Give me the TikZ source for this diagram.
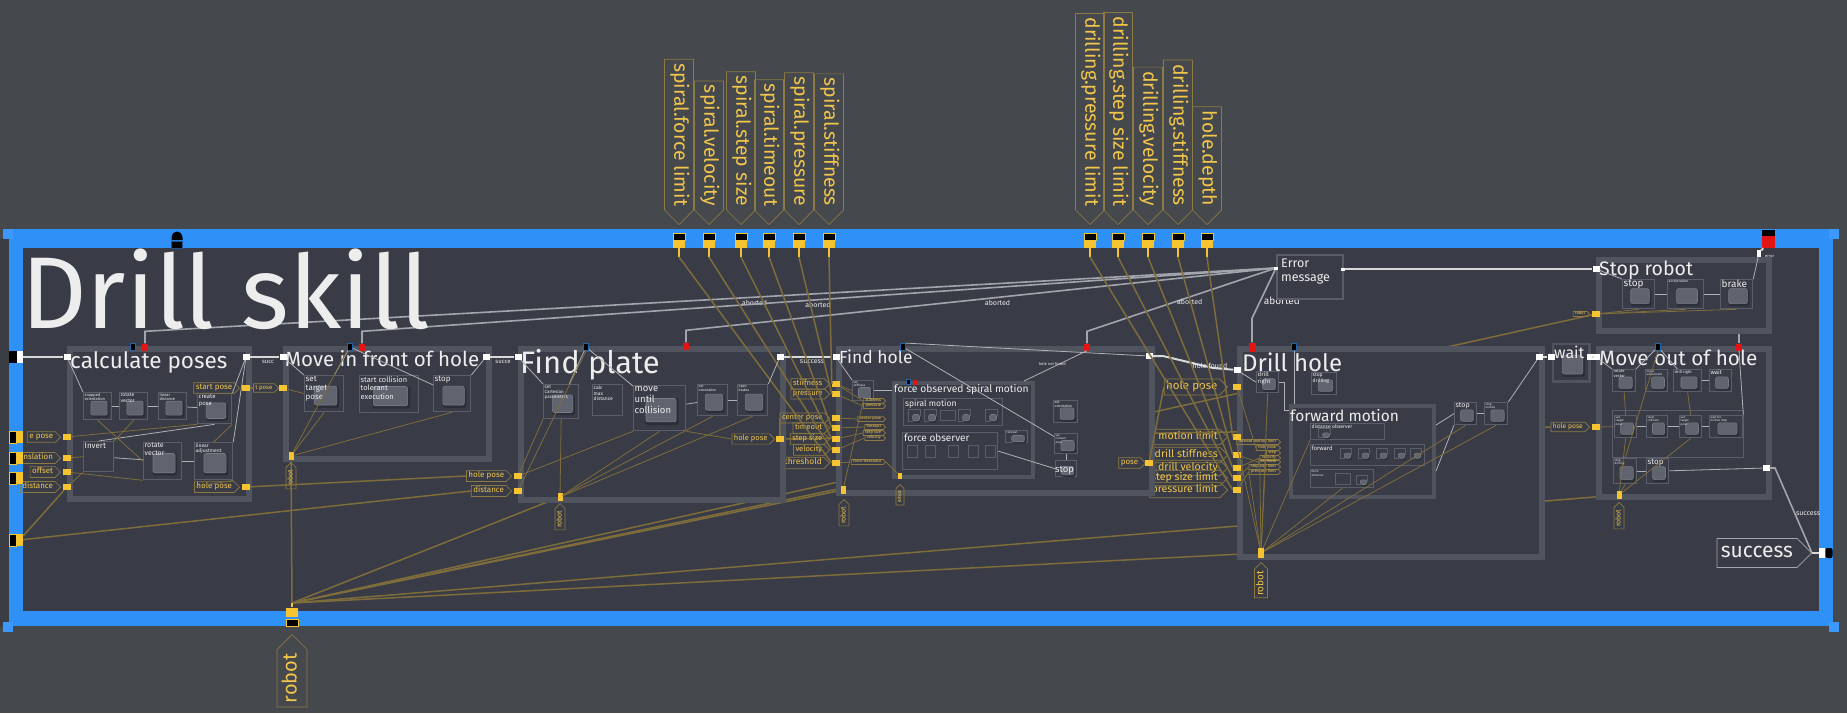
\documentclass[tikz,border=0pt]{standalone}
\usepackage{fontspec}
\setmainfont{Fira Sans}
\usetikzlibrary{positioning, calc, shapes.symbols}
\definecolor{bgout}{HTML}{45484D}
\definecolor{darkstrip}{HTML}{3A3D44}
\definecolor{canvas}{HTML}{393C47}
\definecolor{frameblue}{HTML}{2F90F8}
\definecolor{cornerblue}{HTML}{3C98FA}
\definecolor{boxgray}{HTML}{50545F}
\definecolor{subgray}{HTML}{5A5E6A}
\definecolor{icongray}{HTML}{60646F}
\definecolor{iconlight}{HTML}{777B86}
\definecolor{iconedge}{HTML}{2C2F37}
\definecolor{wirewhite}{HTML}{D8D8D8}
\definecolor{abortgray}{HTML}{A2A5AC}
\definecolor{portyellow}{HTML}{F6C431}
\definecolor{txtyellow}{HTML}{F2C64A}
\definecolor{tagborder}{HTML}{8C7A42}
\definecolor{wireyellow}{HTML}{7E6C3B}
\definecolor{txtwhite}{HTML}{EDEDED}
\definecolor{portred}{HTML}{E31414}

\pgfdeclarelayer{bg}
\pgfdeclarelayer{back}
\pgfdeclarelayer{front}
\pgfsetlayers{bg,back,main,front}

\newcommand{\fs}[1]{\fontsize{#1}{#1}\selectfont}

\tikzset{
  skillbox/.style={draw=boxgray, fill=canvas, inner sep=0pt, anchor=north west},
  subbox/.style={draw=subgray, line width=1.3pt, fill=canvas, inner sep=0pt, anchor=north west},
  iconback/.style={fill=iconedge, rounded corners=2pt, inner sep=0pt},
  iconface/.style={fill=icongray, draw=iconlight, line width=0.6pt, rounded corners=2pt, inner sep=0pt},
  blktext/.style={text=txtwhite, align=left, inner sep=0pt, anchor=north west},
  skilltitle/.style={text=txtwhite, inner sep=0pt, anchor=base west},
  ytag/.style={signal, signal to=east, draw=tagborder, line width=0.7pt, text=txtyellow,
    inner xsep=2pt, inner ysep=1.2pt, execute at begin node=\strut, anchor=east},
  ptag/.style={ytag, rotate=-90, minimum height=29pt, inner xsep=4pt, font=\fs{19.4}},
  rtag/.style={ytag, rotate=90},
  yport/.style={fill=portyellow, minimum width=8pt, minimum height=6pt, inner sep=0pt},
  wport/.style={fill=white, minimum width=7pt, minimum height=6pt, inner sep=0pt},
  bport/.style={fill=black, draw=portyellow, line width=0.8pt, minimum width=12pt, minimum height=7pt, inner sep=0pt},
  redmark/.style={fill=portred, minimum width=6pt, minimum height=7pt, inner sep=0pt},
  bluemark/.style={fill=black, draw=frameblue!70!black, line width=0.8pt, minimum width=5pt, minimum height=7pt, inner sep=0pt},
  wlabel/.style={text=txtwhite, inner sep=1pt},
  wwire/.style={draw=wirewhite, line width=2pt},
  wthin/.style={draw=wirewhite!75!canvas, line width=0.8pt},
  awire/.style={draw=abortgray, line width=1.6pt},
  ywire/.style={draw=wireyellow, line width=1.5pt},
  ythin/.style={draw=wireyellow, line width=0.8pt},
}

% frame of a nested skill: name, x1, y1, x2, y2 (outer edge), frame width
\newcommand{\skillframe}[6]{%
  \node[skillbox, line width=#6pt, minimum width={(#4-#2-#6)*1pt}, minimum height={(#5-#3-#6)*1pt}] (#1) at ({#2+#6/2},{#3+#6/2}) {};}
% block with icon: name, x1, y1, x2, y2, text, font size
\newcommand{\blk}[7]{%
  \node[subbox, minimum width={(#4-#2)*1pt}, minimum height={(#5-#3)*1pt}] (#1) at (#2,#3) {};
  \node[iconback, minimum width={(#4-#2)*0.64pt}, minimum height={(#5-#3)*0.6pt}] (#1-s) at ([shift={(2.4,3.4)}]#1.center) {};
  \node[iconface, minimum width={(#4-#2)*0.58pt}, minimum height={(#5-#3)*0.52pt}] (#1-i) at ([shift={(1.4,2)}]#1.center) {};
  \pgfmathsetmacro\blkbs{1.15*#7}
  \node[blktext, font=\fontsize{#7}{\blkbs}\selectfont] (#1-t) at ([shift={(1.5,1)}]#1.north west) {#6};}
% block without icon
\newcommand{\pbox}[7]{%
  \node[subbox, minimum width={(#4-#2)*1pt}, minimum height={(#5-#3)*1pt}] (#1) at (#2,#3) {};
  \pgfmathsetmacro\blkbs{1.15*#7}
  \node[blktext, font=\fontsize{#7}{\blkbs}\selectfont] (#1-t) at ([shift={(1.5,1.5)}]#1.north west) {#6};}

\begin{document}
\begin{tikzpicture}[x=1pt, y=-1pt, font=\fs{8}]
\useasboundingbox (0,0) rectangle (1847,713);
\begin{pgfonlayer}{bg}
  \fill[bgout] (0,0) rectangle (1847,713);
  \fill[darkstrip] (0,238) rectangle (9,626);
  \fill[frameblue] (9,229) rectangle (1833,626);
  \fill[canvas] (23,248) rectangle (1819,611);
  \foreach \cx/\cy in {3/229, 1829/229, 3/622, 1829/622}
    \fill[cornerblue] (\cx,\cy) rectangle ++(10,10);
\end{pgfonlayer}

\node[skilltitle, font=\fs{102}] (skillname) at (21,328) {Drill skill};

% ports of the skill itself
\node[fill=black, draw=frameblue!60!black, line width=.8pt, minimum width=11pt, minimum height=7pt, inner sep=0pt] (skillstart) at (177,245) {};
\fill[black] (171.5,240) -- (171.5,237) arc[start angle=180, end angle=360, radius=5.5] -- (182.5,240) -- cycle;
\fill[black] (1762,230) rectangle (1775,236);
\node[redmark, minimum width=13pt, minimum height=12pt] (skillerr) at (1768.5,242) {};
\node[fill=black, minimum width=8pt, minimum height=12pt, inner sep=0pt] (skillinb) at (13,357) {};
\node[wport, minimum width=6pt, minimum height=12pt] (skillin) at (20,357) {};
\node[wport, minimum width=6pt, minimum height=10pt] (skillout) at (1822,553) {};
\node[fill=black, minimum width=7pt, minimum height=10pt, inner sep=0pt, rounded corners=2pt] (skilloutb) at (1829,553) {};

% parameters on top
\foreach \px/\nm/\txt in {679/pSF/spiral.force limit, 709/pSV/spiral.velocity, 741/pSS/spiral.step size,
    769/pST/spiral.timeout, 799/pSP/spiral.pressure, 829/pSK/spiral.stiffness,
    1090/pDP/drilling.pressure limit, 1118/pDS/drilling.step size limit, 1148/pDV/drilling.velocity,
    1178/pDK/drilling.stiffness, 1207/pHD/hole.depth}{
  \node[ptag] (\nm-tag) at (\px,225) {\txt};
  \node[bport] (\nm-b) at (\px,236.5) {};
  \node[yport, minimum width=12pt, minimum height=8pt] (\nm) at (\px,244) {};
  \coordinate (\nm-s) at (\px,257);
  \draw[portyellow, line width=2pt] (\nm.south) -- (\nm-s);
}

% robot at the bottom
\node[yport, minimum width=12pt, minimum height=9pt] (robotport) at (292,612) {};
\node[bport] (robotb) at (292,623) {};
\coordinate (robotstem) at (292,603);
\draw[portyellow, line width=2pt] (robotport.north) -- (robotstem);
\node[rtag, minimum height=30pt, inner xsep=4pt, font=\fs{20}] (robottag) at (292,634) {robot};

% inputs on the left
\node[ytag] (cpT1) at (61,437) {e pose};
\node[ytag] (cpT2) at (61,458) {anslation};
\node[ytag] (cpT3) at (61,472) {offset};
\node[ytag] (cpT4) at (61,487) {distance};
\foreach \yy/\nm in {437/lpA, 458/lpB, 478/lpC, 540/lpD}{
  \node[fill=black, draw=portyellow, line width=.8pt, minimum width=7pt, minimum height=12pt, inner sep=0pt] (\nm-b) at (12.5,\yy) {};
  \node[yport, minimum width=7pt, minimum height=12pt] (\nm) at (19.5,\yy) {};
}

% calculate poses
\skillframe{calc}{64}{343}{249}{499}{6}
\node[skilltitle, font=\fs{22.5}] (calcname) at (70,368) {calculate poses};
\blk{cpA}{83}{392}{111}{419}{snapped\\orientation}{4}
\blk{cpB}{119}{392}{147}{419}{rotate\\vector}{5}
\blk{cpC}{158}{392}{186}{419}{linear\\distance}{4}
\blk{cpD}{197}{393}{231}{423}{create\\pose}{6}
\pbox{cpE}{83}{441}{113}{471}{Invert}{8}
\blk{cpF}{143}{442}{181}{479}{rotate\\vector}{7}
\blk{cpG}{194}{442}{232}{479}{linear\\adjustment}{5}
\node[ytag] (cpStart) at (240,388) {start pose};
\node[ytag] (cpHole) at (240,487) {hole pose};
\node[wport] (calcIn) at (67,357) {};
\node[wport] (calcOut) at (246,357) {};
\node[yport] (calcStart) at (246,388) {};
\node[yport] (calcHole) at (246,487) {};
\foreach \yy/\nm in {437/calcI1, 458/calcI2, 472/calcI3, 487/calcI4}
  \node[yport] (\nm) at (67,\yy) {};
\node[bluemark] (calcB) at (133,347) {};
\node[redmark] (calcR) at (145,347) {};

% move in front of hole
\node[ytag, font=\fs{6}] (mfT) at (279,388) {t pose};
\skillframe{mf}{280}{343}{489}{459}{6}
\node[skilltitle, font=\fs{20.5}] (mfname) at (285,366) {Move in front of hole};
\blk{mfA}{304}{375}{343}{411}{set\\target\\pose}{8}
\blk{mfB}{359}{375}{418}{412}{start collision\\tolerant\\execution}{7.5}
\blk{mfC}{433}{375}{470}{411}{stop}{8}
\node[wport] (mfIn) at (283,357) {};
\node[wport] (mfOut) at (486,357) {};
\node[yport] (mfPose) at (283,388) {};
\node[yport, minimum width=5pt, minimum height=8pt] (mfRobot) at (291,456) {};
\node[rtag, font=\fs{7}, minimum height=10pt] (mfRT) at (291,462) {robot};
\node[bluemark] (mfB) at (350,347) {};
\node[redmark] (mfR) at (362,347) {};

% find plate
\node[ytag] (fpT1) at (512,476) {hole pose};
\node[ytag] (fpT2) at (512,491) {distance};
\skillframe{fp}{515}{343}{783}{500}{6}
\node[skilltitle, font=\fs{31}] (fpname) at (520,373) {Find plate};
\blk{fpA}{543}{384}{578}{418}{set\\Cartesian\\parameters}{4.5}
\pbox{fpB}{592}{384}{622}{415}{calc\\max\\distance}{5}
\blk{fpC}{633}{385}{685}{430}{move\\until\\collision}{9.5}
\blk{fpD}{697}{384}{727}{415}{set\\orientation}{3.5}
\blk{fpE}{737}{384}{767}{415}{open\\brakes}{3.5}
\node[ytag, font=\fs{7.5}] (fpT) at (775,439) {hole pose};
\node[wport] (fpIn) at (518,357) {};
\node[wport] (fpOut) at (780,357) {};
\node[yport] (fpHole) at (780,439) {};
\node[yport] (fpI1) at (518,476) {};
\node[yport] (fpI2) at (518,491) {};
\node[yport, minimum width=5pt, minimum height=8pt] (fpRobot) at (560,497) {};
\node[rtag, font=\fs{7}, minimum height=10pt] (fpRT) at (560,503) {robot};
\node[bluemark] (fpB) at (586,347) {};
\node[redmark] (fpR) at (686,346) {};

% inputs partly hidden by the next box
\begin{pgfonlayer}{back}
  \node[ytag, font=\fs{8.5}] (fhT7) at (830,463) {force threshold};
\end{pgfonlayer}
\foreach \yy/\txt/\nm in {437/forward motion limit/dhT1, 455/drill stiffness/dhT2, 468/drill velocity/dhT3,
    478/step size limit/dhT4, 490/pressure limit/dhT5}
  \node[ytag, font=\fs{10.6}, inner ysep=2pt] (\nm) at (1228,\yy) {\txt};

% find hole
\foreach \yy/\txt [count=\i] in {384/stiffness, 394/pressure, 418/center pose, 428/timeout, 439/step size, 450/velocity}
  \node[ytag, font=\fs{7.6}] (fhT\i) at (830,\yy) {\txt};
\skillframe{fh}{833}{343}{1152}{493}{6}
\node[skilltitle, font=\fs{17.5}] (fhname) at (839,363) {Find hole};
\blk{fhA}{852}{380}{873}{400}{set\\stiffness}{3}
\skillframe{sf}{890}{379}{1033}{477}{4}
\node[skilltitle, font=\fs{10.3}] (sfname) at (894,392) {force observed spiral motion};
\pbox{sm}{903}{398}{1002}{425}{}{1}
\node[skilltitle, font=\fs{8.5}] (smname) at (905,406) {spiral motion};
\foreach \bx [count=\i] in {908,924,958,985}{\blk{smb\i}{\bx}{409}{\bx+12}{421}{}{1}}
\pbox{smw}{940}{410}{955}{420}{}{1}
\pbox{fo}{902}{432}{997}{469}{}{1}
\node[skilltitle, font=\fs{10}] (foname) at (904,441) {force observer};
\foreach \bx [count=\i] in {907,925,948,968,985}{\pbox{fob\i}{\bx}{445}{\bx+10}{457}{}{1}}
\blk{fhTo}{1005}{430}{1027}{442}{timeout}{3}
\blk{fhB}{1053}{400}{1077}{422}{set\\orientation}{3.5}
\blk{fhC}{1054}{433}{1077}{453}{set\\contact\\pose}{3}
\blk{fhD}{1055}{460}{1076}{476}{}{1}
\node[skilltitle, font=\fs{9.5}] (fhDt) at (1055,472) {stop};
\node[ytag] (fhT8) at (1146,463) {pose};
\foreach \yy/\txt [count=\i] in {401/stiffness, 406/pressure, 419/center pose, 427/timeout, 433/step size, 438/velocity, 462/force threshold}
  \node[ytag, font=\fs{4}, inner ysep=.4pt] (fhs\i) at (886,\yy) {\txt};
\node[wport] (fhIn) at (836,357) {};
\node[wport] (fhOut) at (1149,356) {};
\node[yport] (fhPose) at (1149,463) {};
\foreach \yy [count=\i] in {384,394,418,428,439,450,463}
  \node[yport] (fhI\i) at (836,\yy) {};
\node[yport, minimum width=5pt, minimum height=8pt] (fhRobot) at (843,490) {};
\node[rtag, font=\fs{7}, minimum height=10pt] (fhRT) at (844,499) {robot};
\node[yport, minimum width=4pt, minimum height=6pt] (sfRobot) at (900,476) {};
\node[rtag, font=\fs{5}, minimum height=8pt] (sfRT) at (900,484) {robot};
\node[bluemark] (fhB) at (903,347) {};
\node[redmark] (fhR) at (1087,347) {};
\node[bluemark, minimum width=4pt, minimum height=5pt] (sfB) at (908,382) {};
\node[redmark, minimum width=4pt, minimum height=5pt] (sfR) at (915,382) {};

% error message
\node[subbox, line width=2pt, minimum width=66pt, minimum height=44pt] (errbox) at (1276,254) {};
\node[blktext, font=\fontsize{12.5}{14}\selectfont] (errtxt) at (1281,259) {Error\\message};
\node[wport, minimum width=4pt, minimum height=3pt] (errin) at (1276,268) {};
\node[wport, minimum width=4pt, minimum height=3pt] (errout) at (1343,269) {};

% drill hole
\node[ytag, font=\fs{11.5}, inner ysep=2pt] (dhT0) at (1228,387) {hole pose};
\skillframe{dh}{1234}{343}{1542}{557}{6}
\node[skilltitle, font=\fs{24}] (dhname) at (1242,371) {Drill hole};
\blk{dhA}{1256}{371}{1278}{392}{drill\\right}{6}
\blk{dhB}{1311}{372}{1336}{394}{stop\\drilling}{5}
\skillframe{fw}{1287}{402}{1434}{497}{4}
\node[skilltitle, font=\fs{15.5}] (fwname) at (1290,421) {forward motion};
\pbox{fwA}{1310}{423}{1384}{439}{distance observer}{5}
\blk{fwa1}{1318}{428}{1330}{437}{}{1}
\pbox{fwB}{1310}{444}{1424}{465}{forward}{6}
\foreach \bx [count=\i] in {1340,1358,1376,1394,1410}{\blk{fwb\i}{\bx}{448}{\bx+11}{458}{}{1}}
\pbox{fwC}{1310}{469}{1373}{487}{force\\observer}{3}
\pbox{fwc1}{1335}{473}{1350}{484}{}{1}
\blk{fwc2}{1356}{475}{1367}{484}{}{1}
\blk{dhC}{1454}{402}{1476}{424}{stop}{7}
\blk{dhD}{1484}{402}{1507}{424}{stop\\motion}{3}
\foreach \yy/\txt [count=\i] in {442/forward motion limit, 448/hole pose, 453/step, 458/velocity, 462/stiffness, 467/step size limit, 472/pressure limit}
  \node[ytag, font=\fs{4}, inner ysep=.3pt] (dhs\i) at (1281,\yy) {\txt};
\node[wport] (dhIn) at (1237,370) {};
\node[wport] (dhOut) at (1539,357) {};
\node[yport] (dhI0) at (1237,387) {};
\foreach \yy [count=\i] in {437,455,468,478,490}
  \node[yport] (dhI\i) at (1237,\yy) {};
\node[yport, minimum width=6pt, minimum height=10pt] (dhRobot) at (1261,553) {};
\node[rtag, font=\fs{10}, minimum height=13pt] (dhRT) at (1261,562) {robot};
\node[redmark, minimum width=7pt, minimum height=9pt] (dhR) at (1252,347) {};
\node[bluemark] (dhB) at (1294,347) {};

% stop robot
\node[ytag, font=\fs{4}, inner ysep=.4pt] (srT) at (1590,314) {robot};
\skillframe{sr}{1593}{254}{1769}{331}{6}
\node[skilltitle, font=\fs{19.5}] (srname) at (1599,275) {Stop robot};
\blk{srA}{1622}{279}{1654}{308}{stop}{10}
\blk{srB}{1667}{279}{1703}{308}{acceleration}{3.5}
\blk{srC}{1720}{279}{1752}{308}{brake}{10}
\node[wport] (srIn) at (1596,269) {};
\node[yport] (srRobot) at (1596,314) {};
\node[wport, minimum width=4pt, minimum height=7pt] (srErr) at (1759,253) {};
\node[wlabel, font=\fs{4}, anchor=west] (errlbl) at (1764,256) {error};

% wait
\blk{wait}{1553}{344}{1588}{380}{}{1}
\draw[boxgray, line width=2.5pt] (wait.north west) rectangle (wait.south east);
\node[skilltitle, font=\fs{16}] (waitname) at (1554,358) {wait};
\node[wport] (waitIn) at (1551,357) {};
\node[wport] (waitOut) at (1590,357) {};

% move out of hole
\node[ytag, font=\fs{6.7}] (moT) at (1590,427) {hole pose};
\skillframe{mo}{1593}{343}{1769}{497}{6}
\node[skilltitle, font=\fs{20.7}] (moname) at (1599,365) {Move out of hole};
\blk{moA}{1612}{369}{1635}{391}{rotate\\vector}{4}
\blk{moB}{1645}{369}{1667}{391}{linear\\adjustment}{3}
\blk{moC}{1673}{369}{1701}{391}{drill right}{4}
\blk{moD}{1709}{369}{1731}{391}{wait}{6}
\node[subbox, line width=.8pt, fill=none, minimum width=131pt, minimum height=47pt] (moRow) at (1612,410) {};
\blk{moE}{1614}{415}{1636}{437}{set\\target\\pose}{3}
\blk{moF}{1646}{415}{1667}{437}{start\\collision}{3}
\blk{moG}{1679}{415}{1701}{437}{set\\target\\pose}{3}
\blk{moH}{1709}{415}{1742}{437}{wait for\\motion stop}{3}
\blk{moI}{1613}{458}{1636}{483}{stop\\drilling}{3}
\blk{moJ}{1646}{458}{1668}{483}{stop}{8}
\node[wport] (moIn) at (1596,357) {};
\node[wport] (moOut) at (1766,468) {};
\node[yport] (moHole) at (1596,427) {};
\node[yport, minimum width=5pt, minimum height=8pt] (moRobot) at (1619,495) {};
\node[rtag, font=\fs{7}, minimum height=10pt] (moRT) at (1619,502) {robot};
\node[bluemark] (moB) at (1658,347) {};
\node[redmark] (moR) at (1739,347) {};

% success output
\node[ytag, draw=abortgray, text=txtwhite, font=\fs{21}, minimum height=29pt, inner xsep=4pt] (successtag) at (1812,553) {success};

% wires hidden behind the boxes
\begin{pgfonlayer}{back}
  \draw[awire] (calcR.north) -- ++(0,-12) -- (errin) node[pos=.54, below=1pt, wlabel, font=\fs{7}] (ab1) {aborted};
  \draw[awire] (mfR.north) -- ++(0,-12) -- (errin) node[pos=.5, below=1pt, wlabel, font=\fs{7}] (ab2) {aborted};
  \draw[awire] (fpR.north) -- ++(0,-12) -- (errin) node[pos=.53, below=1pt, wlabel, font=\fs{7}] (ab3) {aborted};
  \draw[awire] (fhR.north) -- ++(0,-12) -- (errin) node[pos=.55, below=1pt, wlabel, font=\fs{7}] (ab4) {aborted};
  \draw[awire] (dhR.north) -- ++(0,-24) -- (errin) node[pos=.35, right=2pt, wlabel, font=\fs{10}] (ab5) {aborted};
  \draw[awire] (moR.north) -- (moR.north |- sr.south);
  \foreach \tg in {mfRobot, fpRobot, fhRobot, sfRobot, dhRobot, moRobot, srRobot}
    \draw[ywire] (robotstem) -- (\tg);
  \draw[ywire] (fpHole) -- (moT.west);
\end{pgfonlayer}

\begin{pgfonlayer}{front}
  % flow between the steps
  \draw[wwire] (skillin) -- (calcIn);
  \draw[wwire] (calcOut) -- (mfIn);
  \draw[wwire] (mfOut) -- (fpIn);
  \draw[wwire] (fpOut) -- (fhIn);
  \draw[wwire] (fhOut) -- ++(14,0) -- ++(50,12) -- (dhIn);
  \draw[wwire] (dhOut) -- (waitIn);
  \draw[wwire] (waitOut) -- (moIn);
  \draw[wwire] (errout) -- (srIn);
  \draw[wwire] (srErr) -- (skillerr);
  \draw[awire] (moOut) -- ++(9,0) -- (successtag.east);
  \draw[wwire] (successtag.east) -- (skillout);
  \node[wlabel, font=\fs{6}] (lblA) at (268,362) {succ};
  \node[wlabel, font=\fs{6}] (lblB) at (503,362) {succe};
  \node[wlabel, font=\fs{7}] (lblC) at (812,362) {success};
  \node[wlabel, font=\fs{7}] (lblD) at (1210,366) {hole found};
  \node[wlabel, font=\fs{7}] (lblE) at (1808,514) {success};
  % parameters
  \draw[ywire] (pSK-s) -- (fhI1.west);
  \draw[ywire] (pSP-s) -- (fhI2.west);
  \draw[ywire] (pST-s) -- (fhI4.west);
  \draw[ywire] (pSS-s) -- (fhI5.west);
  \draw[ywire] (pSV-s) -- (fhI6.west);
  \draw[ywire] (pSF-s) -- (fhI7.west);
  \draw[ywire] (pHD-s) -- (dhI1.west);
  \draw[ywire] (pDK-s) -- (dhI2.west);
  \draw[ywire] (pDV-s) -- (dhI3.west);
  \draw[ywire] (pDS-s) -- (dhI4.west);
  \draw[ywire] (pDP-s) -- (dhI5.west);
  \draw[ywire] (calcHole) -- (fpT1.west);
  \draw[ywire] (lpD) -- (calcI4);
  \draw[ywire] (lpD) -- (fpT2.west);
  \draw[ywire] (calcStart) -- (mfT.west);
  \draw[ywire] (fpHole) -- (fhT3.west);
  \draw[ywire] (fhPose) -- (dhT0.west);
  % inside calculate poses
  \draw[wthin] (calcIn) -- (cpA.north west);
  \draw[wthin] (cpA) -- (cpB);
  \draw[wthin] (cpB) -- (cpC);
  \draw[wthin] (cpC) -- (cpD);
  \draw[wthin] (cpD.north east) -- (calcOut);
  \draw[wthin] (cpE) -- (cpF);
  \draw[wthin] (cpF) -- (cpG);
  \draw[wthin] (cpG.north east) -- (calcOut);
  \draw[wthin] (cpE.north) -- (cpD.south);
  \draw[ythin] (calcI1) -- (cpD.south west);
  \draw[ythin] (calcI2) -- (cpE.west);
  \draw[ythin] (calcI3) -- (cpF.south west);
  \draw[ythin] (calcI4) -- (cpE.south west);
  \draw[ythin] (cpA.south) -- (cpF.west);
  \draw[ythin] (cpB.south) -- (cpE.north east);
  \draw[ythin] (cpG.north) -- (cpD.south east);
  \draw[ythin] (cpG.south east) -- (cpHole.west);
  % inside move in front of hole
  \draw[wthin] (mfIn) -- (mfA.north west);
  \draw[wthin] (mfA) -- (mfB);
  \draw[wthin] (mfB) -- (mfC);
  \draw[wthin] (mfC.north east) -- (mfOut);
  \draw[ythin] (mfPose) -- (mfA.west);
  \draw[ythin] (mfRobot) -- (mfA.south);
  \draw[ythin] (mfRobot) -- (mfB.south west);
  \draw[ythin] (mfRobot) -- (mfC.south);
  % inside find plate
  \draw[wthin] (fpIn) -- (fpA.north west);
  \draw[wthin] (fpA) -- (fpB);
  \draw[wthin] (fpB) -- (fpC);
  \draw[wthin] (fpC) -- (fpD);
  \draw[wthin] (fpD) -- (fpE);
  \draw[wthin] (fpE.north east) -- (fpOut);
  \draw[ythin] (fpRobot) -- (fpA.south);
  \draw[ythin] (fpRobot) -- (fpC.south);
  \draw[ythin] (fpRobot) -- (fpD.south);
  \draw[ythin] (fpRobot) -- (fpE.south);
  \draw[ythin] (fpI1) -- (fpC.south west);
  \draw[ythin] (fpI1) -- (fpA.south west);
  \draw[ythin] (fpI2) -- (fpB.south);
  \draw[ythin] (fpC.south east) -- (fpT.west);
  % inside find hole
  \draw[wthin] (fhIn) -- (fhA.north west);
  \draw[wthin] (fhA.east) -- (fhA.east -| sf.west);
  \draw[wthin] (fo.east) -- (fhD.west);
  \draw[wthin] (fhB.north east) -- (fhOut);
  \draw[wthin] (fhB) -- (fhC);
  \draw[wthin] (fhC) -- (fhD);
  \draw[wthin] ([shift={(-11,0)}]sf.north east) -- (fhR.south) node[pos=.45, above, wlabel, font=\fs{4}] (lblF) {hole not found};
  \draw[ythin] (fhI1) -- (fhA.west);
  \foreach \i in {1,...,7}
    \draw[ythin] (fhI\i) -- (fhs\i.west);
  \draw[ythin] (fhRobot) -- (fhA.south);
  \draw[ythin] (sfRobot) -- (fhs7.east);
  % inside drill hole
  \draw[wthin] (dhIn) -- (dhA.west);
  \draw[wthin] (dhA.east) -- ++(5,0) |- ([shift={(0,6)}]fw.north west);
  \draw[wthin] (dhB.south) -- (dhB.south |- fw.north);
  \draw[wthin] ([shift={(0,21)}]fw.north east) -- (dhC.west);
  \draw[wthin] ([shift={(0,67)}]fw.north east) -- (dhC.south west);
  \draw[wthin] (dhC) -- (dhD);
  \draw[wthin] (dhD.north east) -- (dhOut);
  \draw[ythin] (dhI0) -- (dhs2.west);
  \draw[ythin] (dhI1) -- (dhs1.west);
  \draw[ythin] (dhI2) -- (dhs5.west);
  \draw[ythin] (dhI3) -- (dhs4.west);
  \draw[ythin] (dhI4) -- (dhs6.west);
  \draw[ythin] (dhI5) -- (dhs7.west);
  \foreach \tg in {dhA.south, dhs1.west, dhs3.west, dhs4.west, dhs7.west, dhC.south, dhD.south, fwC.south, fwA.south west}
    \draw[ythin] (dhRobot) -- (\tg);
  % inside stop robot
  \draw[wthin] (srIn) -- (srA.north west);
  \draw[wthin] (srA) -- (srB);
  \draw[wthin] (srB) -- (srC);
  \draw[wthin] (srC.north east) -- (srErr);
  \draw[ythin] (srRobot) -- (srA.south);
  \draw[ythin] (srRobot) -- (srB.south);
  \draw[ythin] (srRobot) -- (srC.south);
  % inside move out of hole
  \draw[wthin] (moIn) -- (moA.north west);
  \draw[wthin] (moA) -- (moB);
  \draw[wthin] (moB) -- (moC);
  \draw[wthin] (moC) -- (moD);
  \draw[wthin] (moE) -- (moF);
  \draw[wthin] (moF) -- (moG);
  \draw[wthin] (moG) -- (moH);
  \draw[wthin] (moI) -- (moJ);
  \draw[wthin] (moJ) -- (moOut);
  \draw[wthin] (moH.north east) -- (moR.south);
  \draw[ythin] (moHole) -- (moE.west);
  \draw[ythin] (moRobot) -- (moI.south);
  \draw[ythin] (moRobot) -- (moE.south);
  \draw[ythin] (moRobot) -- (moG.south);
  \draw[ythin] (moA.south) -- (moE.north);
  \draw[ythin] (moC.south) -- (moG.north);
  \draw[ythin] (moB.south) -- (moI.north);
\end{pgfonlayer}
\end{tikzpicture}
\end{document}
